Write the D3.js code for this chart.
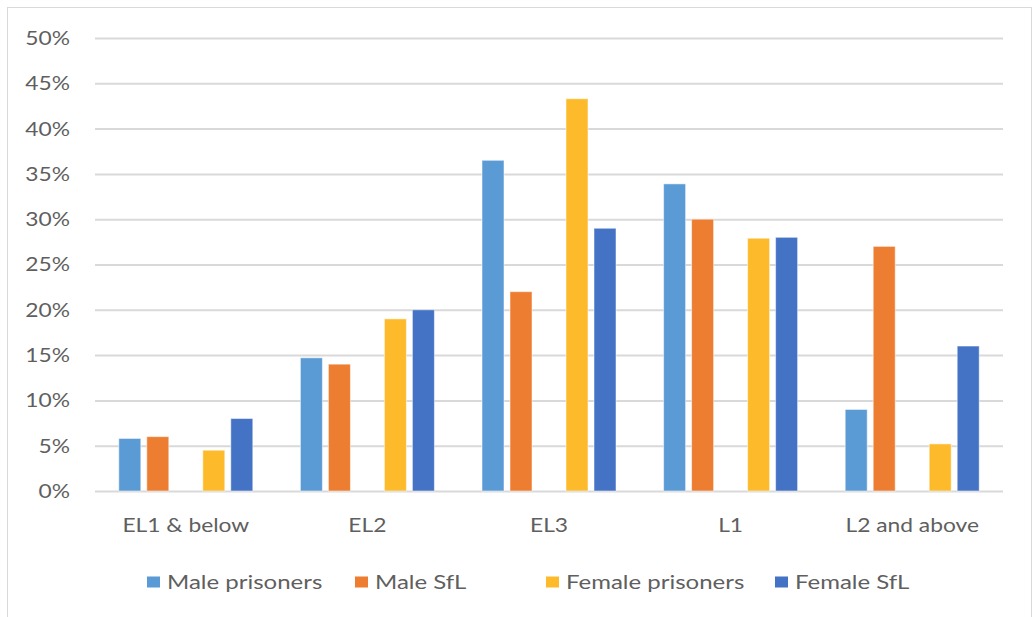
<!DOCTYPE html>
<html><head><meta charset="utf-8">
<script src="https://cdn.jsdelivr.net/npm/d3@7"></script>
<style>html,body{margin:0;padding:0;background:#fff;}svg{display:block;}</style>
</head><body>
<svg id="chart" width="1033" height="617"></svg>
<script>
const categories = ["EL1 & below", "EL2", "EL3", "L1", "L2 and above"];
const seriesNames = ["Male prisoners", "Male SfL", "Female prisoners", "Female SfL"];
const malePrisoners = [5.8, 14.7, 36.5, 33.9, 9.0];
const maleSfL = [6.0, 14.0, 22.0, 30.0, 27.0];
const femalePrisoners = [4.5, 19.0, 43.3, 27.9, 5.2];
const femaleSfL = [8.0, 20.0, 29.0, 28.0, 16.0];
const yTicks = [0, 5, 10, 15, 20, 25, 30, 35, 40, 45, 50];
const seriesValues = [malePrisoners, maleSfL, femalePrisoners, femaleSfL];
// slot order includes an empty slot between male and female series
const slots = ["Male prisoners", "Male SfL", "", "Female prisoners", "Female SfL"];
const colors = ["#5B9BD5", "#ED7D31", "#FDBB2B", "#4472C4"];

const svg = d3.select("#chart");
const font = "Lato, 'Open Sans', sans-serif";
const textColor = "#5f5f5f";
const grid = "#d9d9d9";
const sx = 1.2; // horizontal text stretch to match the reference

svg.append("rect").attr("x", 7.5).attr("y", 7.5).attr("width", 1024).attr("height", 640)
  .attr("fill", "#fff").attr("stroke", "#d9d9d9").attr("stroke-width", 1);

const plotL = 95, plotR = 1003, plotT = 38, plotB = 491;
const x0 = d3.scaleBand().domain(categories).range([plotL, plotR]).padding(0);
const outer = (x0.bandwidth() - 134) / 2;
const x1 = d3.scaleBand().domain(slots).range([outer, x0.bandwidth() - outer]).paddingInner(6 / 28).paddingOuter(0);
const y = d3.scaleLinear().domain([0, 50]).range([plotB, plotT]);

// gridlines + y labels
const yAxis = d3.axisLeft(y).tickValues(yTicks).tickSize(-(plotR - plotL)).tickFormat(d => d + "%").tickPadding(0);
const gy = svg.append("g").attr("transform", `translate(${plotL},0)`).call(yAxis);
gy.select(".domain").remove();
gy.selectAll(".tick line").attr("stroke", grid).attr("stroke-width", 2);
gy.selectAll(".tick text").attr("x", null).attr("dy", "0.34em")
  .attr("transform", `translate(-25,0) scale(${sx},1)`)
  .attr("fill", textColor).style("font-family", font).style("font-size", "19px");

// bars
const groups = svg.append("g").selectAll("g").data(categories).join("g")
  .attr("transform", d => `translate(${x0(d)},0)`);
groups.selectAll("rect")
  .data((c, i) => seriesNames.map((s, k) => ({ s, k, v: seriesValues[k][i] })))
  .join("rect")
  .attr("x", d => x1(d.s))
  .attr("width", x1.bandwidth())
  .attr("y", d => y(d.v))
  .attr("height", d => y(0) - y(d.v))
  .attr("fill", d => colors[d.k])
  .attr("stroke", "rgba(255,255,255,0.5)").attr("stroke-width", 1);

// x axis labels
const xAxis = d3.axisBottom(x0).tickSize(0).tickPadding(0);
const gx = svg.append("g").attr("transform", `translate(0,${plotB})`).call(xAxis);
gx.select(".domain").remove();
gx.selectAll(".tick text").attr("y", null).attr("dy", null)
  .attr("transform", `translate(0,41) scale(${sx},1)`)
  .attr("fill", textColor).style("font-family", font).style("font-size", "19px");

// legend
const legendX = [147, 355, 546, 775];
const lg = svg.append("g").selectAll("g").data(seriesNames).join("g")
  .attr("transform", (d, i) => `translate(${legendX[i]},582)`);
lg.append("rect").attr("x", 0).attr("y", -5.5).attr("width", 13).attr("height", 11).attr("fill", (d, i) => colors[i]);
lg.append("text").attr("transform", `translate(20,6.5) scale(${sx},1)`).text(d => d)
  .attr("fill", textColor).style("font-family", font).style("font-size", "20px");
</script>
</body></html>
